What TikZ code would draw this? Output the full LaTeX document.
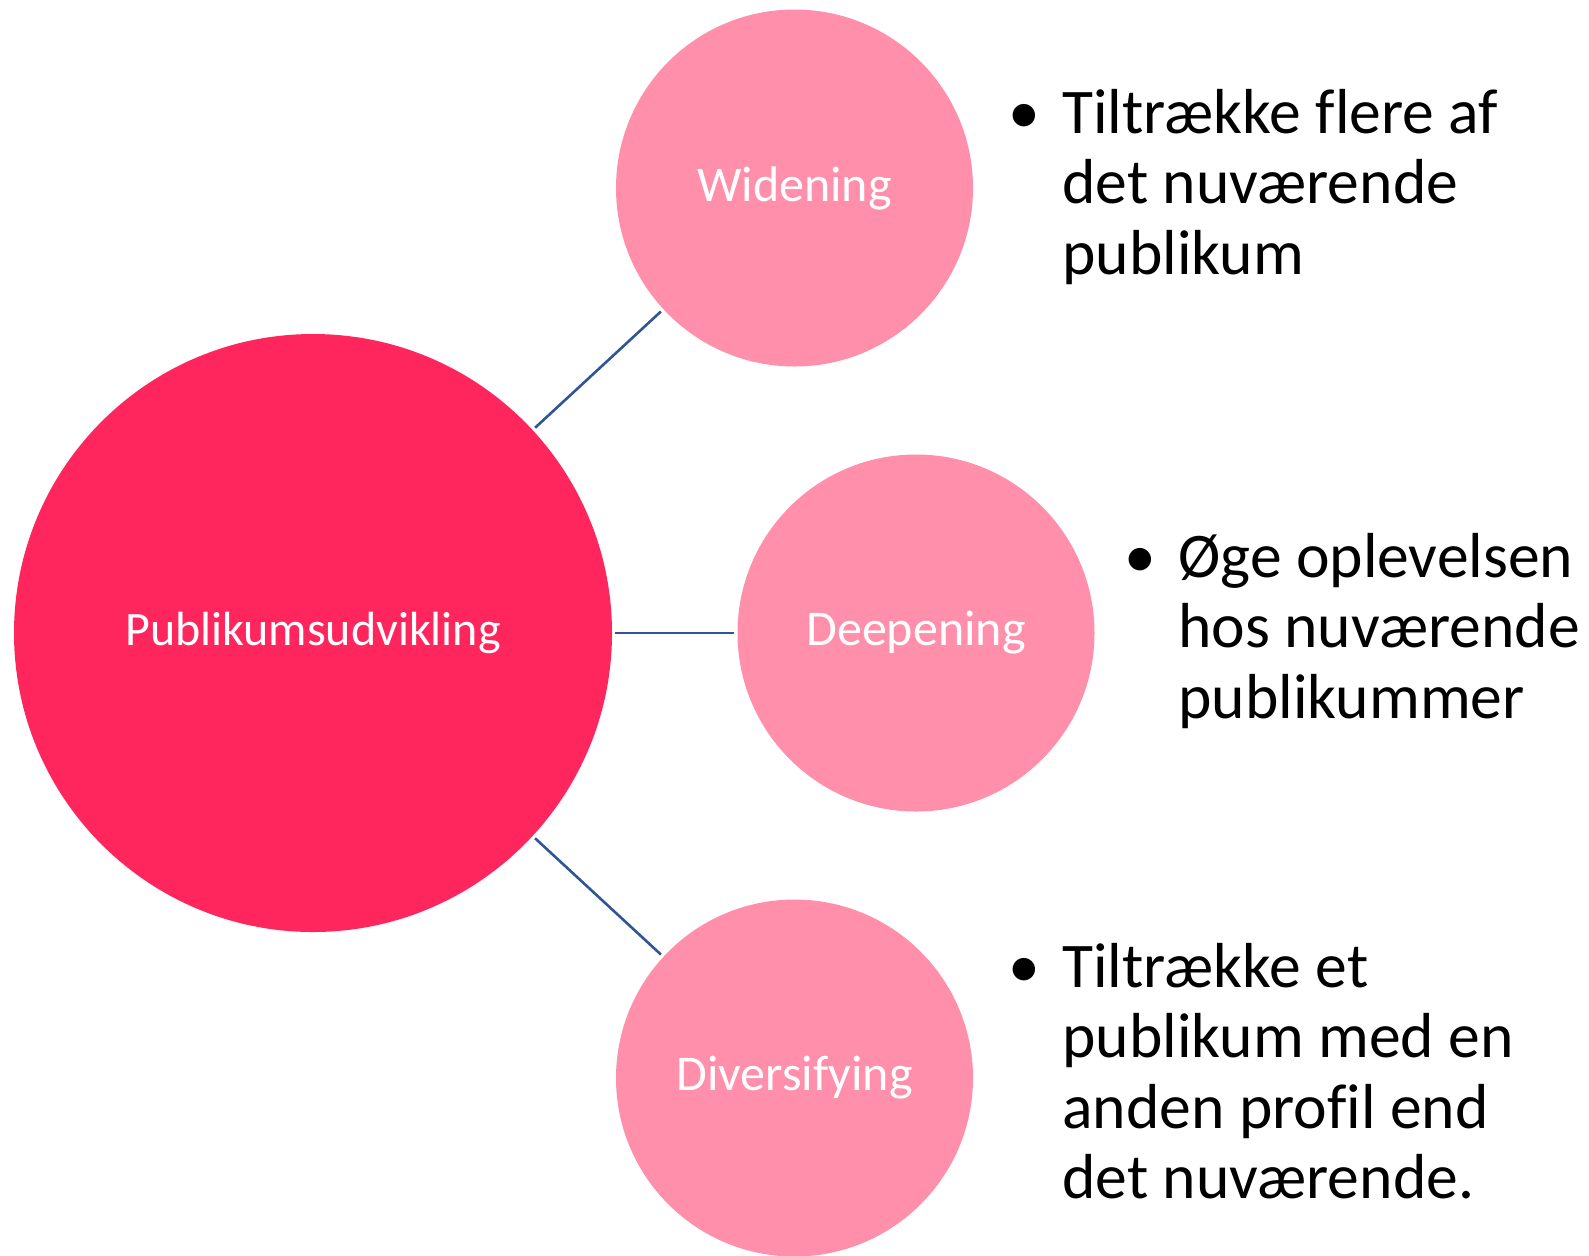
\documentclass[tikz,border=0pt]{standalone}
\usepackage{fontspec}
\setmainfont{Carlito}[Ligatures=NoCommon]
\usepackage{tikz}
\usetikzlibrary{shapes,arrows}

\definecolor{rootred}{RGB}{255,38,94}
\definecolor{leafpink}{RGB}{255,143,171}
\definecolor{linkblue}{RGB}{47,85,151}

\newcommand{\bul}{\makebox[19pt]{\textbullet}}

\begin{document}
\begin{tikzpicture}[x=0.5pt,y=-0.5pt]
\tikzstyle{every node}=[inner sep=0pt]
\tikzstyle{root}=[circle,fill=rootred,text=white,minimum size=299pt,font=\fontsize{24}{28}\selectfont]
\tikzstyle{leaf}=[circle,fill=leafpink,text=white,minimum size=178.5pt,font=\fontsize{25}{30}\selectfont]
\tikzstyle{link}=[draw=linkblue,line width=1.3pt,shorten <=1.5pt,shorten >=1.5pt]
\tikzstyle{note}=[anchor=base west,font=\fontsize{31.8}{35.3}\selectfont]

\useasboundingbox (0,0) rectangle (1589,1255);

\node[root] (Root) at (313,633) {Publikumsudvikling};
\node[leaf] (Wide) at (794.5,188) {Widening};
\node[leaf] (Deep) at (916,633) {Deepening};
\node[leaf] (Div) at (794.5,1078) {Diversifying};

\draw[link] (Root) -- (Wide);
\draw[link] (Root) -- (Deep);
\draw[link] (Root) -- (Div);

\node[note] (WideTxt) at (1005,133) {\begin{tabular}[t]{@{}l@{\hspace{9.5pt}}l@{}}
\bul & Tiltrække flere af\\
     & det nuværende\\
     & publikum
\end{tabular}};
\node[note] (DeepTxt) at (1121,577) {\begin{tabular}[t]{@{}l@{\hspace{9.5pt}}l@{}}
\bul & Øge oplevelsen\\
     & hos nuværende\\
     & publikummer
\end{tabular}};
\node[note] (DivTxt) at (1005,987) {\begin{tabular}[t]{@{}l@{\hspace{9.5pt}}l@{}}
\bul & Tiltrække et\\
     & publikum med en\\
     & anden profil end\\
     & det nuværende.
\end{tabular}};

\end{tikzpicture}
\end{document}
